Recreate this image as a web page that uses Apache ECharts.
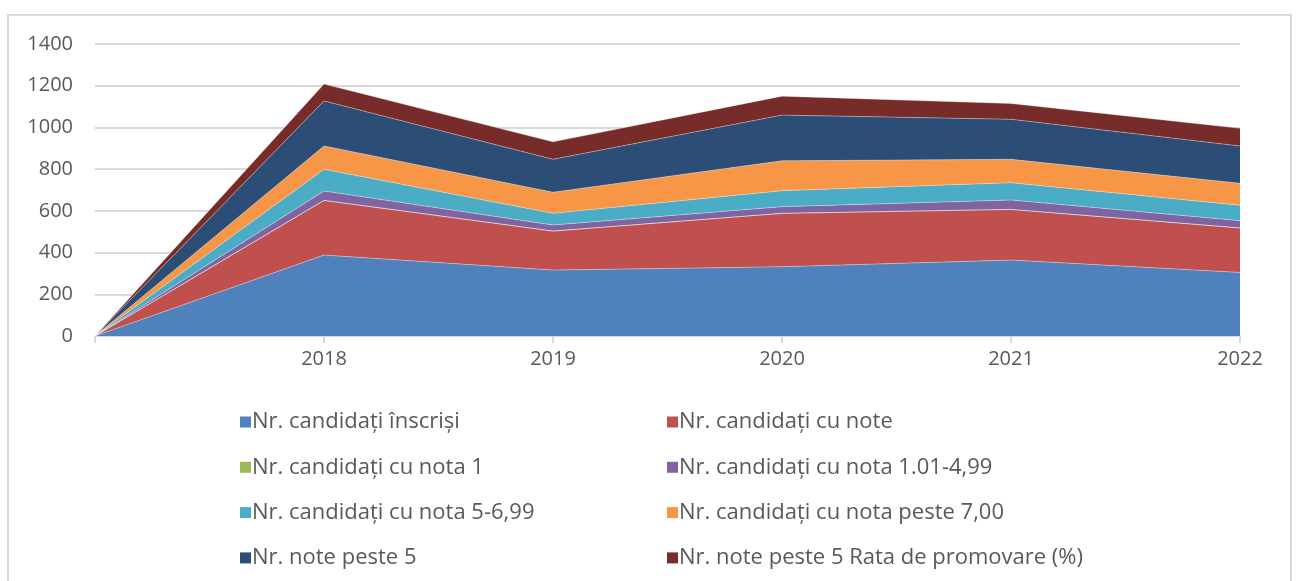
<!DOCTYPE html>
<html>
<head>
<meta charset="utf-8">
<script src="https://cdn.jsdelivr.net/npm/echarts@6/dist/echarts.min.js"></script>
<style>
  html, body { margin: 0; padding: 0; background: #fff; }
  #frame { position: absolute; left: 7px; top: 14px; width: 1285px; height: 600px; border: 2px solid #d9d9d9; box-sizing: border-box; }
  #chart { position: absolute; left: 0; top: 0; width: 1301px; height: 581px; }
</style>
</head>
<body>
<div id="frame"></div>
<div id="chart"></div>
<script>
const categories = ['', '2018', '2019', '2020', '2021', '2022'];
const yTicks = { min: 0, max: 1400, interval: 200 };

const inscrisi = [0, 388, 316, 332, 364, 305];
const cuNote = [0, 262, 187, 256, 243, 213];
const nota1 = [0, 0, 0, 0, 0, 0];
const nota1_499 = [0, 45, 29, 32, 45, 35];
const nota5_699 = [0, 104, 56, 77, 83, 74];
const notaPeste7 = [0, 112, 101, 143, 112, 105];
const notePeste5 = [0, 216, 158, 219, 192, 179];
const rataPromovare = [0, 81, 84, 91, 76, 85];

const seriesDefs = [
  { name: 'Nr. candidați înscriși', data: inscrisi, color: '#4f81bd' },
  { name: 'Nr. candidați cu note', data: cuNote, color: '#c0504d' },
  { name: 'Nr. candidați cu nota 1', data: nota1, color: '#9bbb59' },
  { name: 'Nr. candidați cu nota 1.01-4,99', data: nota1_499, color: '#8064a2' },
  { name: 'Nr. candidați cu nota 5-6,99', data: nota5_699, color: '#4bacc6' },
  { name: 'Nr. candidați cu nota peste 7,00', data: notaPeste7, color: '#f79646' },
  { name: 'Nr. note peste 5', data: notePeste5, color: '#2c4d75' },
  { name: 'Nr. note peste 5 Rata de promovare (%)', data: rataPromovare, color: '#772c2a' },
];

const textColor = '#595959';
const font = '"Open Sans", Lato, sans-serif';

const legendBase = {
  orient: 'vertical',
  top: 410,
  padding: 0,
  itemWidth: 11,
  itemHeight: 11,
  itemGap: 21.3,
  icon: 'rect',
  selectedMode: false,
  textStyle: { color: textColor, fontSize: 22, fontFamily: font, lineHeight: 24, padding: [0, 0, 0, -4] },
};

const chart = echarts.init(document.getElementById('chart'));
chart.setOption({
  animation: false,
  color: seriesDefs.map((s) => s.color),
  grid: { left: 95, right: 61, top: 44, bottom: 245 },
  legend: [
    { ...legendBase, left: 240, data: [seriesDefs[0].name, seriesDefs[2].name, seriesDefs[4].name, seriesDefs[6].name] },
    { ...legendBase, left: 667, data: [seriesDefs[1].name, seriesDefs[3].name, seriesDefs[5].name, seriesDefs[7].name] },
  ],
  xAxis: {
    type: 'category',
    data: categories,
    boundaryGap: false,
    axisLine: { lineStyle: { color: '#d9d9d9', width: 2 } },
    axisTick: { show: true, length: 7, lineStyle: { color: '#d9d9d9', width: 2 } },
    axisLabel: { color: textColor, fontSize: 20, fontFamily: font, margin: 13 },
  },
  yAxis: {
    type: 'value',
    ...yTicks,
    axisLine: { show: false },
    axisTick: { show: false },
    axisLabel: { color: textColor, fontSize: 20, fontFamily: font, margin: 22, formatter: (v) => String(v) },
    splitLine: { lineStyle: { color: '#d9d9d9', width: 2 } },
  },
  series: seriesDefs.map((s) => ({
    name: s.name,
    type: 'line',
    stack: 'total',
    data: s.data,
    symbol: 'none',
    itemStyle: { color: s.color },
    lineStyle: { width: 0.6, color: 'rgba(255,255,255,0.6)' },
    areaStyle: { color: s.color, opacity: 1 },
  })),
});
</script>
</body>
</html>
